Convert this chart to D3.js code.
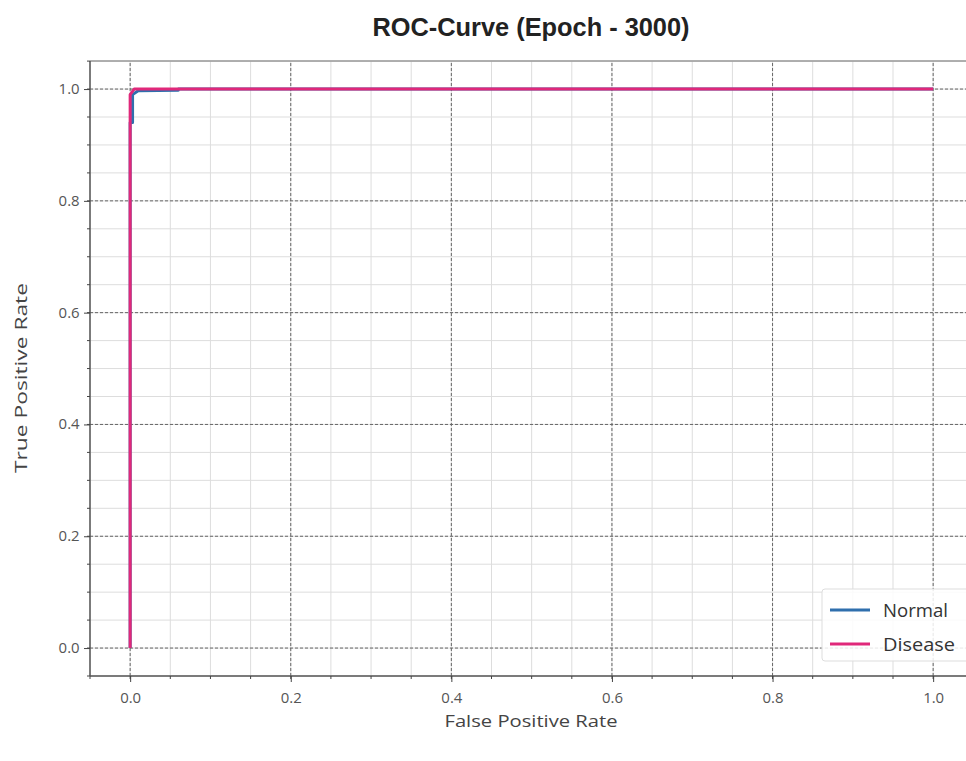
<!DOCTYPE html>
<html>
<head>
<meta charset="utf-8">
<script src="https://cdn.jsdelivr.net/npm/d3@7"></script>
<style>
  body { margin: 0; background: #fff; }
  svg { display: block; }
</style>
</head>
<body>
<svg id="chart" width="966" height="761"></svg>
<script>
const W = 966, H = 761;

// series
const normalFpr = [0, 0, 0.003, 0.003, 0.01, 0.06, 0.06, 1];
const normalTpr = [0, 0.94, 0.94, 0.99, 0.997, 0.998, 1, 1];
const diseaseFpr = [0, 0, 0.005, 1];
const diseaseTpr = [0, 0.99, 1, 1];
const seriesNames = ["Normal", "Disease"];
const seriesColors = ["#2f6fad", "#e0287a"];
const majorTicks = [0, 0.2, 0.4, 0.6, 0.8, 1.0];
const minorTicks = d3.range(-0.05, 1.051, 0.05);

const x = d3.scaleLinear().domain([-0.05, 1.05]).range([90, 90 + 803 * 1.1]);
const y = d3.scaleLinear().domain([-0.05, 1.05]).range([676, 676 - 559 * 1.1]);

const svg = d3.select("#chart");
const x0 = x(-0.05), x1 = x(1.05), y0 = y(-0.05), y1 = y(1.05);

// minor grid
const grid = svg.append("g");
grid.selectAll(".mx").data(minorTicks).join("line")
  .attr("x1", d => x(d)).attr("x2", d => x(d)).attr("y1", y0).attr("y2", y1)
  .attr("stroke", "#ddd").attr("stroke-width", 1);
grid.selectAll(".my").data(minorTicks).join("line")
  .attr("y1", d => y(d)).attr("y2", d => y(d)).attr("x1", x0).attr("x2", x1)
  .attr("stroke", "#ddd").attr("stroke-width", 1);
// major grid, dashed
grid.selectAll(".Mx").data(majorTicks).join("line")
  .attr("x1", d => x(d)).attr("x2", d => x(d)).attr("y1", y0).attr("y2", y1)
  .attr("stroke", "#666").attr("stroke-width", 1).attr("stroke-dasharray", "3,2");
grid.selectAll(".My").data(majorTicks).join("line")
  .attr("y1", d => y(d)).attr("y2", d => y(d)).attr("x1", x0).attr("x2", x1)
  .attr("stroke", "#666").attr("stroke-width", 1).attr("stroke-dasharray", "3,2");

// curves
const line = d3.line().x(d => x(d[0])).y(d => y(d[1]));
const curves = [d3.zip(normalFpr, normalTpr), d3.zip(diseaseFpr, diseaseTpr)];
curves.forEach((c, i) => {
  svg.append("path").datum(c).attr("d", line)
    .attr("fill", "none").attr("stroke", seriesColors[i]).attr("stroke-width", 3)
    .attr("stroke-linejoin", "round");
});

// spines
svg.append("line").attr("x1", x0).attr("x2", x1).attr("y1", y1).attr("y2", y1).attr("stroke", "#999").attr("stroke-width", 1.5);
svg.append("line").attr("x1", x0).attr("x2", x1).attr("y1", y0).attr("y2", y0).attr("stroke", "#555").attr("stroke-width", 1.5);
svg.append("line").attr("x1", x0).attr("x2", x0).attr("y1", y0).attr("y2", y1).attr("stroke", "#555").attr("stroke-width", 1.5);

// axes
const xAxis = d3.axisBottom(x).tickValues(majorTicks).tickSize(6).tickFormat(d3.format(".1f"));
const yAxis = d3.axisLeft(y).tickValues(majorTicks).tickSize(6).tickFormat(d3.format(".1f"));
const gx = svg.append("g").attr("transform", `translate(0,${y0})`).call(xAxis);
const gy = svg.append("g").attr("transform", `translate(${x0},0)`).call(yAxis);
[gx, gy].forEach(g => {
  g.select(".domain").remove();
  g.selectAll(".tick line").attr("stroke", "#444");
  g.selectAll(".tick text").attr("fill", "#555")
    .style("font-family", "'Open Sans', sans-serif").style("font-size", "14px")
    .attr("textLength", 21).attr("lengthAdjust", "spacingAndGlyphs");
});
gx.selectAll(".tick text").attr("dy", "1.3em");
gy.selectAll(".tick text").attr("dx", "-0.1em");
// minor ticks
svg.append("g").selectAll("line").data(minorTicks).join("line")
  .attr("x1", d => x(d)).attr("x2", d => x(d)).attr("y1", y0).attr("y2", y0 + 3)
  .attr("stroke", "#444");
svg.append("g").selectAll("line").data(minorTicks).join("line")
  .attr("y1", d => y(d)).attr("y2", d => y(d)).attr("x1", x0).attr("x2", x0 - 3)
  .attr("stroke", "#444");

// title & labels
svg.append("text").attr("x", 531).attr("y", 36).attr("text-anchor", "middle")
  .style("font-family", "'Liberation Sans', Arial, sans-serif").style("font-weight", "700")
  .style("font-size", "25px").attr("fill", "#222").attr("textLength", 317)
  .attr("lengthAdjust", "spacingAndGlyphs")
  .text("ROC-Curve (Epoch - 3000)");
svg.append("text").attr("x", 531).attr("y", 727).attr("text-anchor", "middle")
  .style("font-family", "'Open Sans', sans-serif").style("font-size", "17px").attr("fill", "#444")
  .attr("textLength", 173).attr("lengthAdjust", "spacingAndGlyphs")
  .text("False Positive Rate");
svg.append("text").attr("transform", "translate(27,378) rotate(-90)").attr("text-anchor", "middle")
  .style("font-family", "'Open Sans', sans-serif").style("font-size", "16px").attr("fill", "#444")
  .attr("textLength", 190).attr("lengthAdjust", "spacingAndGlyphs")
  .text("True Positive Rate");

// legend
const lg = svg.append("g").attr("transform", "translate(822,589)");
lg.append("rect").attr("x", 0).attr("y", 0).attr("width", 160).attr("height", 72).attr("rx", 3)
  .attr("fill", "#fff").attr("fill-opacity", 0.85).attr("stroke", "#ddd");
const legendWidths = [65, 72];
seriesNames.forEach((n, i) => {
  const ly = 21 + i * 34;
  lg.append("line").attr("x1", 8).attr("x2", 48).attr("y1", ly).attr("y2", ly)
    .attr("stroke", seriesColors[i]).attr("stroke-width", 3);
  lg.append("text").attr("x", 61).attr("y", ly + 7)
    .style("font-family", "'Open Sans', sans-serif").style("font-size", "18px").attr("fill", "#333")
    .attr("textLength", legendWidths[i]).attr("lengthAdjust", "spacingAndGlyphs")
    .text(n);
});
</script>
</body>
</html>
